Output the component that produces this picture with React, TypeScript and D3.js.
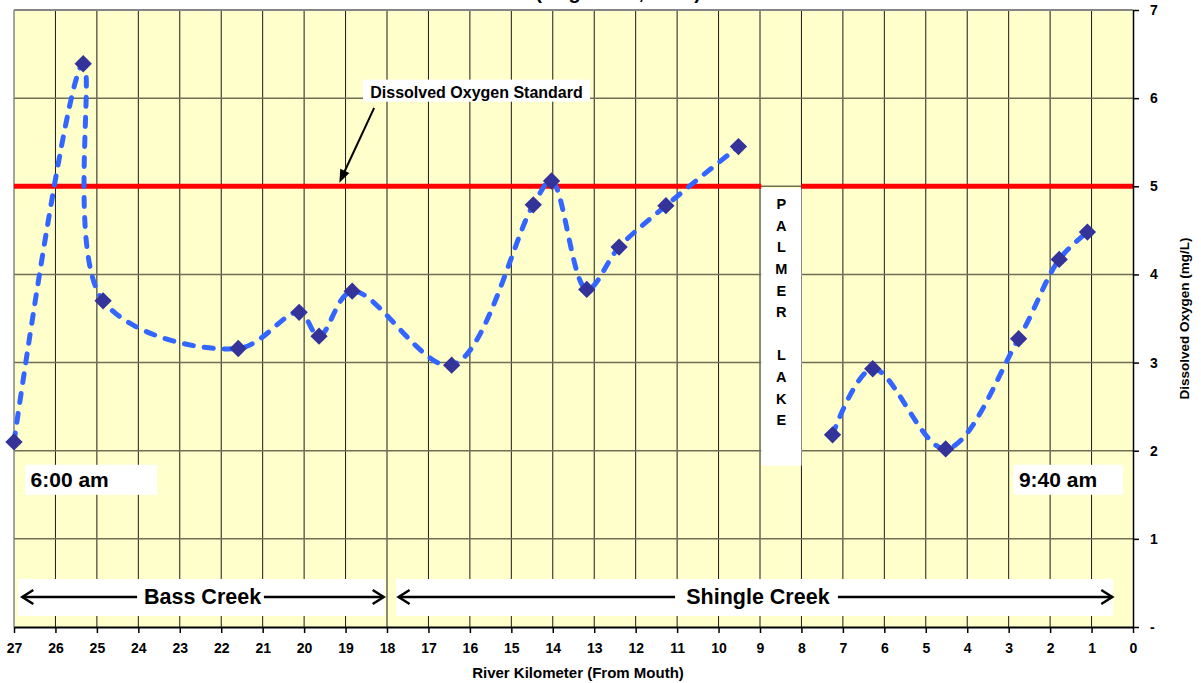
import * as React from 'react';
import * as d3 from 'd3';

// Bass Creek -> Shingle Creek, upstream of Palmer Lake (run started 6:00 am)
const upperKm = [27, 25.33, 24.85, 21.59, 20.12, 19.64, 18.84, 16.44, 14.47, 14.03, 13.18, 12.40, 11.27, 9.52];
const upperDo = [2.10, 6.39, 3.70, 3.16, 3.57, 3.30, 3.81, 2.97, 4.79, 5.06, 3.83, 4.31, 4.78, 5.45];

// Shingle Creek below Palmer Lake (run ended 9:40 am)
const lowerKm = [7.25, 6.28, 4.52, 2.76, 1.78, 1.10];
const lowerDo = [2.18, 2.93, 2.02, 3.27, 4.17, 4.48];

const kmTicks = [27, 26, 25, 24, 23, 22, 21, 20, 19, 18, 17, 16, 15, 14, 13, 12, 11, 10, 9, 8, 7, 6, 5, 4, 3, 2, 1, 0];
const doTicks = [0, 1, 2, 3, 4, 5, 6, 7];

const doStandard = 5;
// the standard line is broken where the lake sits
const standardRuns = [[27, 8.97], [8.0, 0]];

const titleText = '(August 21, 2003)';
const xTitle = 'River Kilometer (From Mouth)';
const yTitle = 'Dissolved Oxygen (mg/L)';
const standardLabel = 'Dissolved Oxygen Standard';
const lakeLetters = ['P', 'A', 'L', 'M', 'E', 'R', '', 'L', 'A', 'K', 'E'];

const FONT = "'Liberation Sans', Arial, Helvetica, sans-serif";

const draw = (svgNode) => {
	const svg = d3.select(svgNode);
	svg.selectAll('*').remove();

	const x = d3.scaleLinear().domain([27, 0]).range([14, 1133]);
	const y = d3.scaleLinear().domain([0, 7]).range([627, 10]);

	// title, almost entirely above the top edge
	svg.append('text')
		.attr('x', 618).attr('y', -1)
		.attr('text-anchor', 'middle')
		.attr('font-family', FONT).attr('font-weight', 'bold').attr('font-size', 20)
		.text(titleText);

	// plot area
	svg.append('rect')
		.attr('x', x(27)).attr('y', y(7))
		.attr('width', x(0) - x(27)).attr('height', y(0) - y(7))
		.attr('fill', '#FFFFCC');

	svg.append('g')
		.selectAll('line')
		.data(kmTicks.filter(k => k > 0 && k < 27))
		.enter().append('line')
		.attr('x1', d => x(d)).attr('x2', d => x(d))
		.attr('y1', y(7)).attr('y2', y(0))
		.attr('stroke', '#1a1a1a').attr('stroke-width', 1);

	svg.append('g')
		.selectAll('line')
		.data(doTicks.filter(d => d > 0 && d < 7))
		.enter().append('line')
		.attr('x1', x(27)).attr('x2', x(0))
		.attr('y1', d => y(d)).attr('y2', d => y(d))
		.attr('stroke', '#6e6e55').attr('stroke-width', 1.5);

	// top and left frame
	svg.append('line')
		.attr('x1', x(27)).attr('x2', x(0)).attr('y1', y(7)).attr('y2', y(7))
		.attr('stroke', '#858585').attr('stroke-width', 2);
	svg.append('line')
		.attr('x1', x(27)).attr('x2', x(27)).attr('y1', y(7)).attr('y2', y(0))
		.attr('stroke', '#858585').attr('stroke-width', 1.5);

	const whiteBox = (k0, k1, v0, v1) => svg.append('rect')
		.attr('x', x(k0)).attr('y', y(v0))
		.attr('width', x(k1) - x(k0)).attr('height', y(v1) - y(v0))
		.attr('fill', '#ffffff');

	// annotation boxes
	whiteBox(8.97, 8.0, 4.98, 1.83);        // Palmer Lake
	whiteBox(26.73, 23.55, 1.84, 1.50);     // 6:00 am
	whiteBox(2.89, 0.24, 1.84, 1.50);       // 9:40 am
	whiteBox(26.9, 18.05, 0.545, 0.125);    // Bass Creek
	whiteBox(17.78, 0.48, 0.545, 0.125);    // Shingle Creek
	whiteBox(18.58, 13.1, 6.21, 5.96);      // standard label

	// dissolved oxygen standard
	svg.append('g')
		.selectAll('line')
		.data(standardRuns)
		.enter().append('line')
		.attr('x1', d => x(d[0])).attr('x2', d => x(d[1]))
		.attr('y1', y(doStandard)).attr('y2', y(doStandard))
		.attr('stroke', '#FF0000').attr('stroke-width', 5);

	// profile lines
	const line = d3.line()
		.x(d => x(d[0]))
		.y(d => y(d[1]))
		.curve(d3.curveCatmullRom.alpha(0.5));

	const series = [
		upperKm.map((k, i) => [k, upperDo[i]]),
		lowerKm.map((k, i) => [k, lowerDo[i]])
	];

	svg.append('g')
		.selectAll('path')
		.data(series)
		.enter().append('path')
		.attr('d', d => line(d))
		.attr('fill', 'none')
		.attr('stroke', '#3366FF')
		.attr('stroke-width', 5)
		.attr('stroke-linecap', 'round')
		.attr('stroke-dasharray', '9 11');

	const diamond = d3.symbol().type(d3.symbolSquare).size(150);
	svg.append('g')
		.selectAll('path')
		.data(series[0].concat(series[1]))
		.enter().append('path')
		.attr('d', diamond)
		.attr('transform', d => 'translate(' + x(d[0]) + ',' + y(d[1]) + ') rotate(45)')
		.attr('fill', '#333399');

	// axes
	const xAxis = svg.append('g')
		.attr('transform', 'translate(0,' + y(0) + ')')
		.call(d3.axisBottom(x).tickValues(kmTicks).tickSize(6).tickSizeOuter(0).tickPadding(10));
	xAxis.select('.domain').attr('stroke', '#000').attr('stroke-width', 2);
	xAxis.selectAll('.tick line').attr('stroke', '#000').attr('stroke-width', 1.5);
	xAxis.selectAll('.tick text')
		.attr('font-family', FONT).attr('font-weight', 'bold').attr('font-size', 14).attr('fill', '#000');

	const yAxis = svg.append('g')
		.attr('transform', 'translate(' + x(0) + ',0)')
		.call(d3.axisRight(y).tickValues(doTicks).tickSize(6).tickSizeOuter(0).tickPadding(11)
			.tickFormat(d => d === 0 ? '-' : String(d)));
	yAxis.select('.domain').attr('stroke', '#000').attr('stroke-width', 1.5);
	yAxis.selectAll('.tick line').attr('stroke', '#000').attr('stroke-width', 1.5);
	yAxis.selectAll('.tick text')
		.attr('font-family', FONT).attr('font-weight', 'bold').attr('font-size', 14).attr('fill', '#000');

	svg.append('text')
		.attr('x', 578).attr('y', 678)
		.attr('text-anchor', 'middle')
		.attr('font-family', FONT).attr('font-weight', 'bold').attr('font-size', 15)
		.text(xTitle);

	svg.append('text')
		.attr('transform', 'translate(1189,' + y(3.5) + ') rotate(-90)')
		.attr('text-anchor', 'middle')
		.attr('font-family', FONT).attr('font-weight', 'bold').attr('font-size', 13.5)
		.text(yTitle);

	// Palmer Lake
	svg.append('g')
		.selectAll('text')
		.data(lakeLetters)
		.enter().append('text')
		.attr('x', (x(8.97) + x(8.0)) / 2)
		.attr('y', (d, i) => y(doStandard) + 23 + i * 21.6)
		.attr('text-anchor', 'middle')
		.attr('font-family', FONT).attr('font-weight', 'bold').attr('font-size', 14.5)
		.text(d => d);

	// standard label and its pointer
	svg.append('text')
		.attr('x', x(15.84)).attr('y', y(6.0))
		.attr('text-anchor', 'middle')
		.attr('font-family', FONT).attr('font-weight', 'bold').attr('font-size', 16)
		.text(standardLabel);

	const tail = [x(18.31), y(5.89)];
	const tip = [x(19.15), y(5.04)];
	const ang = Math.atan2(tip[1] - tail[1], tip[0] - tail[0]);
	svg.append('line')
		.attr('x1', tail[0]).attr('y1', tail[1])
		.attr('x2', tip[0] - 8 * Math.cos(ang)).attr('y2', tip[1] - 8 * Math.sin(ang))
		.attr('stroke', '#000').attr('stroke-width', 2);
	svg.append('path')
		.attr('d', 'M0,0L-13,-5L-13,5Z')
		.attr('transform', 'translate(' + tip[0] + ',' + tip[1] + ') rotate(' + (ang * 180 / Math.PI) + ')')
		.attr('fill', '#000');

	// time stamps
	svg.append('text')
		.attr('x', x(26.6)).attr('y', y(1.59))
		.attr('font-family', FONT).attr('font-weight', 'bold').attr('font-size', 21)
		.text('6:00 am');
	svg.append('text')
		.attr('x', x(1.81)).attr('y', y(1.59))
		.attr('text-anchor', 'middle')
		.attr('font-family', FONT).attr('font-weight', 'bold').attr('font-size', 21)
		.text('9:40 am');

	// creek reach arrows
	const reach = (name, k0, k1, kText, gapLeft, gapRight) => {
		const yy = y(0.34);
		const g = svg.append('g').attr('stroke', '#000').attr('stroke-width', 2.5).attr('fill', 'none');
		g.append('line').attr('x1', x(k0)).attr('x2', x(gapLeft)).attr('y1', yy).attr('y2', yy);
		g.append('line').attr('x1', x(gapRight)).attr('x2', x(k1)).attr('y1', yy).attr('y2', yy);
		g.append('path').attr('d', 'M' + (x(k0) + 11) + ',' + (yy - 7) + 'L' + x(k0) + ',' + yy + 'L' + (x(k0) + 11) + ',' + (yy + 7));
		g.append('path').attr('d', 'M' + (x(k1) - 11) + ',' + (yy - 7) + 'L' + x(k1) + ',' + yy + 'L' + (x(k1) - 11) + ',' + (yy + 7));
		svg.append('text')
			.attr('x', x(kText)).attr('y', y(0.34) + 7)
			.attr('text-anchor', 'middle')
			.attr('font-family', FONT).attr('font-weight', 'bold').attr('font-size', 21.5)
			.text(name);
	};
	reach('Bass Creek', 26.8, 18.08, 22.45, 24.03, 20.97);
	reach('Shingle Creek', 17.72, 0.5, 9.05, 11.05, 7.12);
};

export default function App() {
	const ref = React.useRef(null);

	React.useEffect(() => {
		draw(ref.current);
	}, []);

	return (
		<svg
			ref={ref}
			width={1201}
			height={683}
			style={{position: 'absolute', left: 0, top: 0, background: '#ffffff'}}
		/>
	);
}
